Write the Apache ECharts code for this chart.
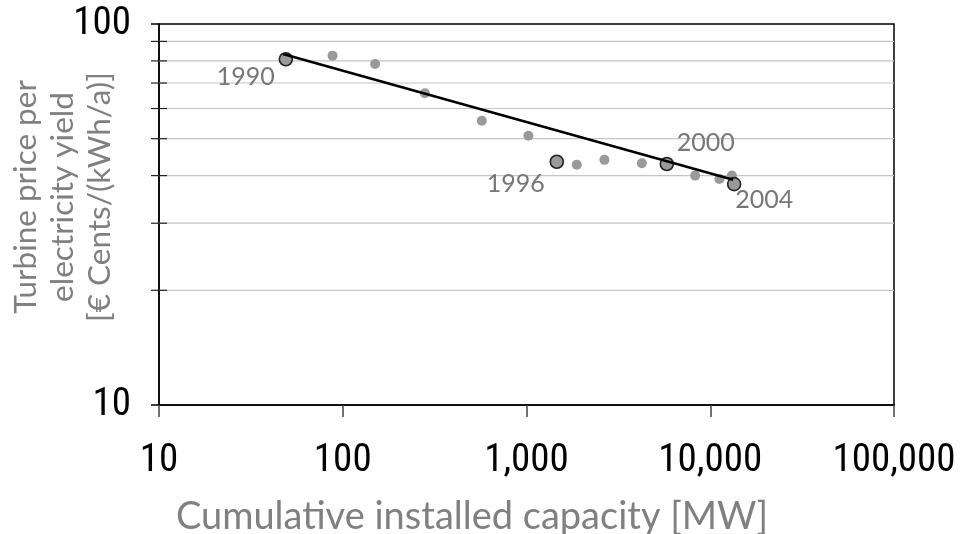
<!DOCTYPE html>
<html>
<head>
<meta charset="utf-8">
<script src="https://cdn.jsdelivr.net/npm/echarts@6/dist/echarts.min.js"></script>
<style>
html,body{margin:0;padding:0;background:#fff;}
#chart{width:960px;height:534px;}
</style>
</head>
<body>
<div id="chart"></div>
<script>
// ---- data ----
const years = [1990, 1991, 1992, 1993, 1994, 1995, 1996, 1997, 1998, 1999, 2000, 2001, 2002, 2003, 2004];
const capacityMW = [49, 88, 150, 280, 571, 1024, 1462, 1878, 2655, 4244, 5802, 8277, 11220, 13120, 13490];
const pricePerYield = [80.8, 82.6, 78.5, 65.8, 55.7, 50.9, 43.5, 42.7, 44.0, 43.1, 42.9, 40.0, 39.2, 40.0, 38.0];
const highlightYears = [1990, 1996, 2000, 2004];
const trendX = [47.3, 13330];
const trendY = [83.4, 39.0];
const yMinorGrid = [20, 30, 40, 50, 60, 70, 80, 90];
const xTitle = 'Cumulative installed capacity [MW]';
const yTitle = ['Turbine price per', 'electricity yield', '[\u20ac Cents/(kWh/a)]'];

// ---- styling ----
const tickFont = "'Roboto Condensed','Liberation Sans Narrow',sans-serif";
const textFont = 'Lato';
const labelOffsets = {1990: [-40, 18], 1996: [-41, 22], 2000: [39, -21], 2004: [30, 16]};

const allPts = capacityMW.map((c, i) => [c, pricePerYield[i]]);
const hiPts = highlightYears.map(y => {
  const i = years.indexOf(y);
  return {
    value: [capacityMW[i], pricePerYield[i]],
    label: {offset: labelOffsets[y], formatter: String(y)}
  };
});

const chart = echarts.init(document.getElementById('chart'), null, {renderer: 'canvas'});
chart.setOption({
  animation: false,
  backgroundColor: '#fff',
  grid: {left: 159, right: 66, top: 24, bottom: 129, show: true, borderColor: '#000', borderWidth: 1.5,
    backgroundColor: 'transparent', containLabel: false, outerBoundsMode: 'none'},
  xAxis: {
    type: 'log', logBase: 10, min: 10, max: 100000,
    axisLine: {lineStyle: {color: '#000', width: 1.5}},
    axisTick: {show: true, length: 12, lineStyle: {color: '#444', width: 1.5}},
    splitLine: {show: false},
    axisLabel: {
      show: true, margin: 37, color: '#000', fontFamily: tickFont, fontSize: 39, lineHeight: 39,
      formatter: v => Math.round(v).toLocaleString('en-US')
    }
  },
  yAxis: {
    type: 'log', logBase: 10, min: 10, max: 100,
    axisLine: {lineStyle: {color: '#000', width: 1.5}},
    axisTick: {show: true, length: 8, lineStyle: {color: '#000', width: 1.5}},
    splitLine: {show: false},
    axisLabel: {
      show: true, margin: 28, color: '#000', fontFamily: tickFont, fontSize: 39, lineHeight: 39,
      padding: [4, 0, 0, 0],
      formatter: v => String(Math.round(v))
    }
  },
  graphic: [
    {type: 'text', x: 472, y: 517, z: 10,
      style: {text: xTitle, fill: '#808080', fontFamily: textFont, fontSize: 38, fontWeight: 'normal', align: 'center', verticalAlign: 'middle'}},
    {type: 'text', x: 63, y: 197, rotation: Math.PI / 2, z: 10,
      style: {text: yTitle.join('\n'), fill: '#808080', fontFamily: textFont, fontSize: 31.5, fontWeight: 'normal', lineHeight: 37, align: 'center', verticalAlign: 'middle'}}
  ],
  series: [
    {
      type: 'custom', z: 1, silent: true,
      data: yMinorGrid.map(v => [10, v]),
      renderItem: function (params, api) {
        const v = api.value(1);
        const p0 = api.coord([10, v]);
        const p1 = api.coord([100000, v]);
        return {type: 'group', children: [
          {type: 'line', shape: {x1: p0[0], y1: p0[1], x2: p1[0], y2: p1[1]}, style: {stroke: '#c4c4c4', lineWidth: 1.2}},
          {type: 'line', shape: {x1: p0[0] - 8, y1: p0[1], x2: p0[0] + 8, y2: p0[1]}, style: {stroke: '#222', lineWidth: 1.2}}
        ]};
      }
    },
    {
      type: 'scatter', z: 3, symbol: 'circle', symbolSize: 10,
      itemStyle: {color: '#9a9a9a', opacity: 1},
      data: allPts
    },
    {
      type: 'scatter', z: 4, symbol: 'circle', symbolSize: 13,
      itemStyle: {color: '#9a9a9a', borderColor: '#222', borderWidth: 1.6, opacity: 1},
      label: {show: true, position: 'inside', color: '#777', fontFamily: textFont, fontSize: 25, align: 'center', verticalAlign: 'middle'},
      data: hiPts
    },
    {
      type: 'line', z: 5, showSymbol: false, symbol: 'none',
      lineStyle: {color: '#000', width: 2.5},
      data: trendX.map((x, i) => [x, trendY[i]])
    }
  ]
});
</script>
</body>
</html>
